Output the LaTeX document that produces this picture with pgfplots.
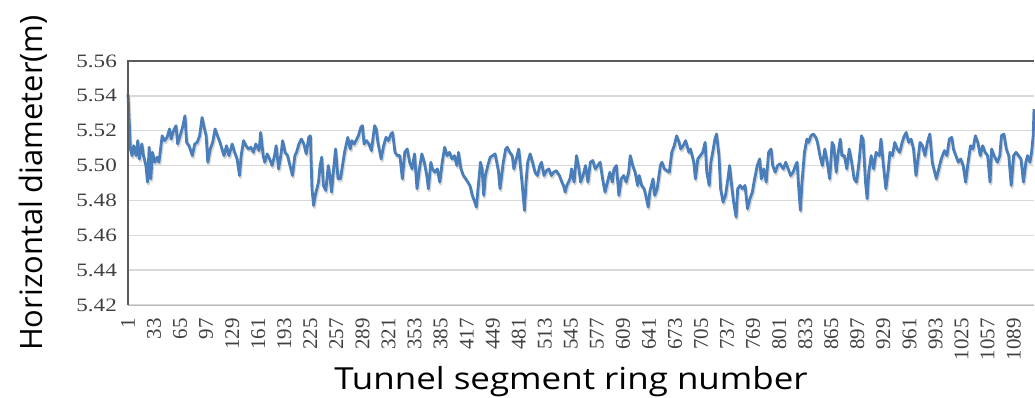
\documentclass[border=0pt]{standalone}
\usepackage{pgfplots}
\pgfplotsset{compat=1.18}
\usepackage{pgfplotstable}
\usepackage{fontspec}
\setmainfont{Liberation Serif}
\newfontfamily\labelfont{Open Sans}
\newfontfamily\xlabelfont[FakeStretch=1.15]{Open Sans}
\newfontfamily\ytickfont[FakeStretch=1.22]{Liberation Serif}
\definecolor{lineblue}{RGB}{74,126,187}
\definecolor{gridgray}{RGB}{217,217,217}
\definecolor{ticktext}{RGB}{64,64,64}
\definecolor{axisdark}{RGB}{90,90,90}
\definecolor{axislight}{RGB}{185,185,185}
\pgfplotstableread{
ring dia
1 5.541
4 5.5095
6 5.5057
8 5.5114
11 5.5057
13 5.5143
15 5.5038
18 5.5124
20 5.5057
23 5.5000
25 5.4905
27 5.5105
29 5.4924
31 5.5076
34 5.5019
37 5.5048
39 5.5019
43 5.5171
46 5.5143
49 5.5162
52 5.5210
54 5.5152
57 5.5200
60 5.5229
62 5.5124
65 5.5171
68 5.5219
71 5.5286
73 5.5133
76 5.5114
80 5.5057
83 5.5124
86 5.5133
89 5.5171
92 5.5276
95 5.5210
97 5.5171
99 5.5019
102 5.5095
105 5.5133
108 5.5210
111 5.5171
114 5.5133
117 5.5086
119 5.5057
122 5.5114
125 5.5057
129 5.5124
132 5.5076
135 5.5038
138 5.4943
140 5.5057
143 5.5143
146 5.5114
149 5.5095
152 5.5105
155 5.5076
158 5.5124
162 5.5086
164 5.5190
167 5.5057
169 5.5019
172 5.5067
175 5.5038
178 5.5000
181 5.5057
183 5.5114
186 5.4981
189 5.5067
191 5.5143
194 5.5076
197 5.5057
199 5.5019
203 5.4943
206 5.5057
208 5.5076
211 5.5124
214 5.5152
217 5.5124
220 5.5067
223 5.5162
225 5.5171
227 5.4867
229 5.4771
231 5.4829
235 5.4905
237 5.5000
239 5.5048
241 5.4886
244 5.4857
247 5.5000
249 5.4943
251 5.4848
254 5.5000
256 5.5095
259 5.4924
262 5.4924
267 5.5076
271 5.5162
274 5.5095
276 5.5143
279 5.5124
282 5.5152
284 5.5171
287 5.5219
289 5.5229
291 5.5124
294 5.5143
297 5.5124
300 5.5086
304 5.5229
306 5.5210
308 5.5133
312 5.5038
315 5.5114
318 5.5162
321 5.5143
324 5.5181
326 5.5190
329 5.5076
332 5.5057
335 5.5057
338 5.4924
341 5.5076
344 5.5095
347 5.5019
350 5.4981
353 5.5067
356 5.4867
359 5.4981
362 5.5067
365 5.5019
368 5.4943
370 5.4867
373 5.5019
375 5.4981
378 5.4962
381 5.4981
384 5.4905
387 5.5019
390 5.5105
393 5.5057
396 5.5076
399 5.5038
402 5.5057
405 5.5000
407 5.5076
410 5.4981
413 5.4943
416 5.4924
421 5.4886
424 5.4829
427 5.4790
429 5.4762
431 5.4867
434 5.5019
436 5.4981
438 5.4829
440 5.4943
443 5.5000
446 5.5048
449 5.5057
452 5.5067
456 5.4971
458 5.4867
462 5.5019
465 5.5095
467 5.5105
470 5.5076
473 5.5057
475 5.4981
478 5.5038
481 5.5095
483 5.5000
485 5.4905
488 5.4743
490 5.4905
492 5.5019
495 5.5067
498 5.5019
501 5.4962
504 5.4943
507 5.5000
509 5.5019
512 5.4943
515 5.4971
518 5.4981
521 5.4943
524 5.4962
527 5.4971
531 5.4943
534 5.4905
536 5.4886
538 5.4848
540 5.4886
544 5.4924
546 5.4981
549 5.4905
552 5.5057
555 5.4981
557 5.4905
560 5.4943
563 5.5000
566 5.4905
569 5.5019
572 5.5029
575 5.4981
578 5.5000
581 5.5019
584 5.4924
587 5.4848
590 5.4905
593 5.4962
596 5.4905
598 5.4981
601 5.5000
604 5.4829
607 5.4924
610 5.4943
613 5.4905
616 5.4962
618 5.5057
621 5.5000
624 5.4962
627 5.4886
629 5.4943
632 5.4886
635 5.4867
637 5.4829
640 5.4762
642 5.4848
646 5.4924
648 5.4829
651 5.4867
655 5.5000
657 5.5019
660 5.4981
663 5.4971
666 5.4962
669 5.5076
672 5.5114
675 5.5171
678 5.5133
680 5.5095
683 5.5114
686 5.5143
690 5.5076
692 5.5095
696 5.5019
698 5.4924
701 5.5038
704 5.5057
707 5.5076
710 5.5133
712 5.4962
715 5.4886
717 5.5019
720 5.5095
722 5.5152
724 5.5181
727 5.5057
729 5.4867
732 5.4790
735 5.4829
738 5.4924
740 5.5000
743 5.4867
745 5.4790
748 5.4705
750 5.4867
753 5.4886
756 5.4867
759 5.4886
762 5.4752
765 5.4810
768 5.4848
770 5.4905
774 5.5000
777 5.5038
779 5.4924
782 5.4981
785 5.4905
788 5.5076
791 5.5095
793 5.5000
796 5.4962
799 5.5000
802 5.5010
806 5.4981
809 5.5019
812 5.4981
815 5.4943
818 5.4962
821 5.5000
823 5.5019
825 5.4867
827 5.4743
829 5.4905
832 5.5076
835 5.5152
837 5.5133
840 5.5171
843 5.5181
846 5.5162
848 5.5133
851 5.5057
854 5.5000
857 5.5095
860 5.5019
863 5.4924
866 5.5133
868 5.5114
871 5.4962
873 5.5057
876 5.5152
878 5.5057
881 5.5057
884 5.4981
887 5.5095
890 5.5019
893 5.4924
896 5.4905
899 5.5019
902 5.5171
904 5.5152
907 5.4905
909 5.4810
911 5.4962
914 5.5057
917 5.4981
920 5.5076
924 5.5057
926 5.5152
929 5.5000
932 5.4867
935 5.4981
937 5.5076
940 5.5057
943 5.5133
946 5.5095
949 5.5076
952 5.5133
954 5.5162
957 5.5190
960 5.5133
963 5.5152
966 5.5095
969 5.4943
972 5.5057
974 5.5133
977 5.5114
980 5.5057
983 5.5133
986 5.5181
989 5.5019
991 5.4981
994 5.4924
998 5.5000
1000 5.5038
1004 5.5086
1007 5.5057
1010 5.5152
1013 5.5162
1015 5.5095
1018 5.5057
1021 5.5019
1024 5.5038
1027 5.5000
1030 5.4905
1033 5.5019
1036 5.5114
1039 5.5095
1042 5.5171
1045 5.5133
1048 5.5057
1051 5.5114
1054 5.5076
1057 5.5057
1060 5.4905
1062 5.5095
1065 5.5057
1069 5.5019
1072 5.5057
1074 5.5171
1077 5.5181
1080 5.5095
1083 5.5057
1086 5.4886
1089 5.5057
1092 5.5076
1095 5.5057
1098 5.5038
1101 5.4905
1104 5.5019
1106 5.5057
1109 5.5019
1111 5.5076
1113 5.5171
1114 5.5324
}\diam

\begin{document}
\begin{tikzpicture}
\begin{axis}[
  scale only axis,
  width=906bp, height=244bp,
  xmin=1, xmax=1114,
  ymin=5.42, ymax=5.56,
  clip=false,
  axis line style={draw=none},
  major tick length=0pt,
  ytick={5.42,5.44,5.46,5.48,5.50,5.52,5.54,5.56},
  yticklabels={5.42,5.44,5.46,5.48,5.50,5.52,5.54,5.56},
  xtick={1,33,65,97,129,161,193,225,257,289,321,353,385,417,449,481,513,545,577,609,641,673,705,737,769,801,833,865,897,929,961,993,1025,1057,1089},
  xticklabels={1,33,65,97,129,161,193,225,257,289,321,353,385,417,449,481,513,545,577,609,641,673,705,737,769,801,833,865,897,929,961,993,1025,1057,1089},
  ymajorgrids,
  grid style={gridgray, line width=1.3bp},
  xticklabel style={rotate=90, anchor=east, inner sep=0pt, font=\fontsize{21}{21}\selectfont, text=ticktext},
  xticklabel shift=13bp,
  yticklabel style={anchor=east, inner sep=0pt, font=\ytickfont\fontsize{19}{19}\selectfont, text=ticktext},
  yticklabel shift=11bp,
  xlabel={Tunnel segment ring number},
  xlabel style={at={(axis description cs:0.489,-0.348)}, anchor=base, inner sep=0pt, font=\xlabelfont\fontsize{30.5}{30.5}\selectfont},
  ylabel={Horizontal diameter(m)},
  ylabel style={at={(axis description cs:-0.0949,0.5)}, anchor=base, rotate=0, inner sep=0pt, font=\labelfont\fontsize{31}{31}\selectfont},
]
\addplot[no marks, color=black!16, line width=2.8bp, line join=round, xshift=1bp, yshift=-2.2bp] table[x=ring, y=dia] {\diam};
\addplot[no marks, color=lineblue, line width=2.8bp, line join=round] table[x=ring, y=dia] {\diam};
\draw[axislight, line width=1bp] (rel axis cs:0,0) -- (rel axis cs:1,0);
\draw[axisdark, line width=1.3bp] (rel axis cs:0,0) -- (rel axis cs:0,1) -- (rel axis cs:1,1);
\end{axis}
\pgfresetboundingbox
\path[use as bounding box] (-128bp,-93bp) rectangle (907bp,305bp);
\end{tikzpicture}
\end{document}
